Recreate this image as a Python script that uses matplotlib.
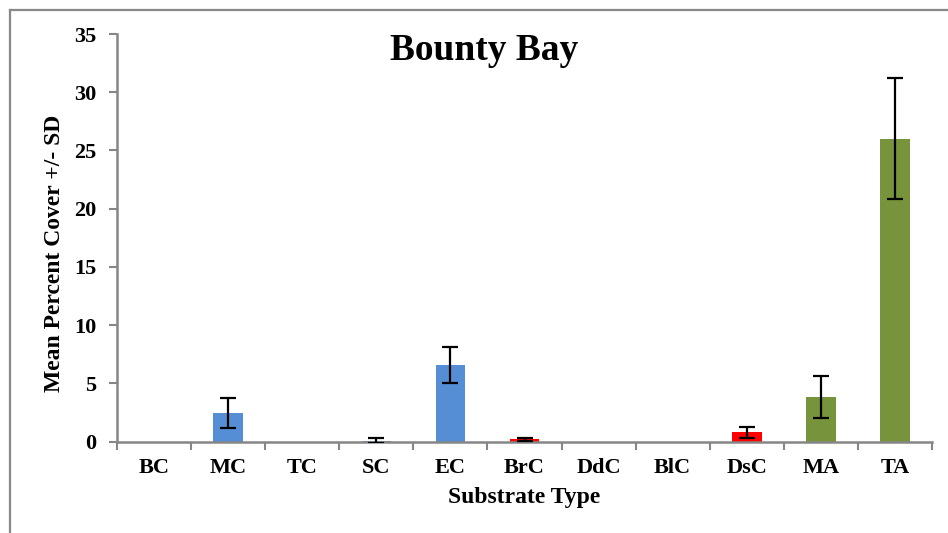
import matplotlib
matplotlib.use("Agg")
import matplotlib.pyplot as plt
from matplotlib.lines import Line2D
import numpy as np

# Substrate cover data for Bounty Bay
categories = ["BC", "MC", "TC", "SC", "EC", "BrC", "DdC", "BlC", "DsC", "MA", "TA"]
mean_cover = [0.0, 2.45, 0.0, 0.1, 6.6, 0.2, 0.0, 0.0, 0.8, 3.8, 26.0]
sd_cover = [0.0, 1.3, 0.0, 0.2, 1.55, 0.15, 0.0, 0.0, 0.5, 1.8, 5.2]
groups = ["coral", "coral", "coral", "coral", "coral", "disease", "disease",
          "disease", "disease", "algae", "algae"]
group_colors = {"coral": "#558ED5", "disease": "#FF0000", "algae": "#77933C"}
y_ticks = [0, 5, 10, 15, 20, 25, 30, 35]

plt.rcParams["font.family"] = ["Liberation Serif", "DejaVu Serif"]
plt.rcParams["font.weight"] = "bold"

W, H = 948, 533
fig = plt.figure(figsize=(W / 100, H / 100), dpi=100)

left, right, top, bottom = 117, 932, 34, 441.7
ax = fig.add_axes([left / W, 1 - bottom / H, (right - left) / W, (bottom - top) / H])

x = np.arange(len(categories))
colors = [group_colors[g] for g in groups]
ax.bar(x, mean_cover, width=0.4, color=colors, zorder=2)
has_err = [i for i, s in enumerate(sd_cover) if s > 0]
ax.errorbar(x[has_err], [mean_cover[i] for i in has_err],
            yerr=[sd_cover[i] for i in has_err], fmt="none",
            ecolor="black", elinewidth=1.6, capsize=6, capthick=1.6, zorder=3)

ax.set_xlim(-0.5, len(categories) - 0.5)
ax.set_ylim(0, 35)
ax.set_yticks(y_ticks)
ax.set_yticklabels([str(t) for t in y_ticks], fontsize=16, fontweight="bold")

# category labels between boundary ticks
ax.set_xticks(np.arange(-0.5, len(categories), 1.0))
ax.set_xticklabels([])
ax.set_xticks(x, minor=True)
ax.set_xticklabels(categories, minor=True, fontsize=16, fontweight="bold")
ax.tick_params(axis="x", which="minor", length=0, pad=12)
ax.tick_params(axis="x", which="major", length=6, width=1.5, color="#868686", direction="out")
ax.tick_params(axis="y", length=6, width=1.5, color="#868686", direction="out", pad=9)

for side in ["top", "right"]:
    ax.spines[side].set_visible(False)
for side in ["left", "bottom"]:
    ax.spines[side].set_color("#868686")
    ax.spines[side].set_linewidth(1.8)

fig.text(484 / W, 1 - 50 / H, "Bounty Bay", ha="center", va="center",
         fontsize=27, fontweight="bold")
fig.text(524 / W, 1 - 497 / H, "Substrate Type", ha="center", va="center",
         fontsize=17, fontweight="bold")
fig.text(55 / W, 1 - 253 / H, "Mean Percent Cover +/- SD", ha="center", va="center",
         rotation=90, fontsize=17, fontweight="bold")

# outer frame lines on the top and left edges
fig.add_artist(Line2D([10 / W, 1.0], [1 - 10 / H, 1 - 10 / H], color="#888888",
                      linewidth=1.6, transform=fig.transFigure))
fig.add_artist(Line2D([10 / W, 10 / W], [0.0, 1 - 10 / H], color="#888888",
                      linewidth=1.6, transform=fig.transFigure))

fig.savefig("out.png", dpi=100)
